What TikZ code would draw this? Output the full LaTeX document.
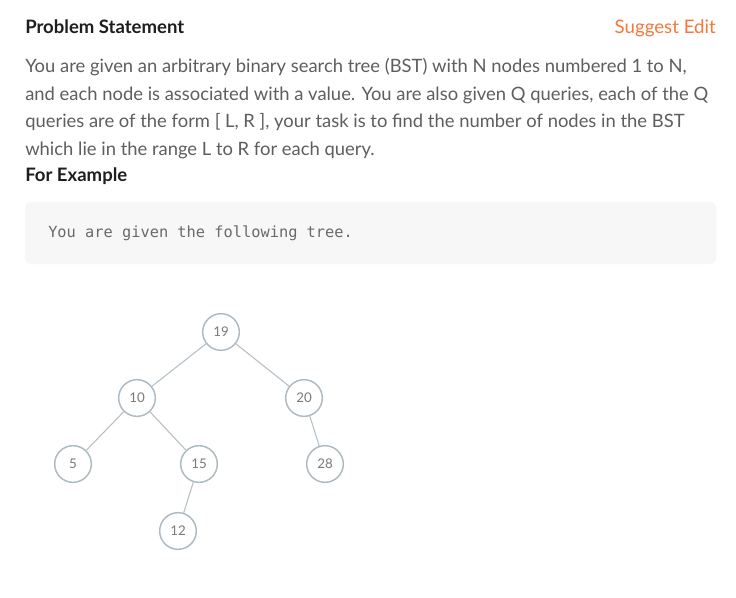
\documentclass[tikz,border=0pt]{standalone}
\usepackage{fontspec}
\setmainfont{Lato}
\setmonofont{DejaVu Sans Mono}
\definecolor{titlec}{HTML}{1E1E1E}
\definecolor{bodyc}{HTML}{5E5E5E}
\definecolor{orangec}{HTML}{F7783A}
\definecolor{boxc}{HTML}{F7F7F7}
\definecolor{codec}{HTML}{6A6A6A}
\definecolor{circc}{HTML}{AEBAC2}
\definecolor{edgec}{HTML}{B5C0C7}
\definecolor{numc}{HTML}{7A7A7A}
\begin{document}
\begin{tikzpicture}[x=0.75pt,y=-0.75pt,
  title/.style={anchor=base west,inner sep=0pt,text=titlec,font=\fontsize{13.9pt}{15pt}\selectfont\bfseries},
  body/.style={anchor=base west,inner sep=0pt,text=bodyc,font=\fontsize{13.8pt}{15pt}\selectfont},
  tnode/.style={circle,draw=circc,line width=1.1pt,minimum size=27.5pt,inner sep=0pt,fill=white,text=numc,font=\fontsize{10pt}{11pt}\selectfont},
  tedge/.style={draw=edgec,line width=0.8pt}]
\useasboundingbox (0,0) rectangle (736,597);
\fill[white] (0,0) rectangle (736,597);
\node[title] (ttl) at (25,33.5) {Problem Statement};
\node[anchor=base east,inner sep=0pt,text=orangec,font=\fontsize{14pt}{15pt}\selectfont] (sug) at (716,33.5) {Suggest Edit};
\node[body] (l1) at (25,72.5) {You are given an arbitrary binary search tree (BST) with N nodes numbered 1 to N,};
\node[body] (l2) at (25,100) {and each node is associated with a value. You are also given Q queries, each of the Q};
\node[body] (l3) at (25,127.5) {queries are of the form [ L, R ], your task is to find the number of nodes in the BST};
\node[body] (l4) at (25,155) {which lie in the range L to R for each query.};
\node[title] (fe) at (25,181.5) {For Example};
\fill[boxc,rounded corners=4pt] (25,202) rectangle (716,264);
\node[anchor=base west,inner sep=0pt,text=codec,font=\fontsize{11.5pt}{13pt}\selectfont\ttfamily] (code) at (48,237.5) {You are given the following tree.};
\node[tnode] (n19) at (221,332) {19};
\node[tnode] (n10) at (137,398) {10};
\node[tnode] (n20) at (304,398) {20};
\node[tnode] (n5) at (73,464) {5};
\node[tnode] (n15) at (199,464) {15};
\node[tnode] (n28) at (325,464) {28};
\node[tnode] (n12) at (178,531) {12};
\draw[tedge] (n19) -- (n10);
\draw[tedge] (n19) -- (n20);
\draw[tedge] (n10) -- (n5);
\draw[tedge] (n10) -- (n15);
\draw[tedge] (n20) -- (n28);
\draw[tedge] (n15) -- (n12);
\end{tikzpicture}
\end{document}
